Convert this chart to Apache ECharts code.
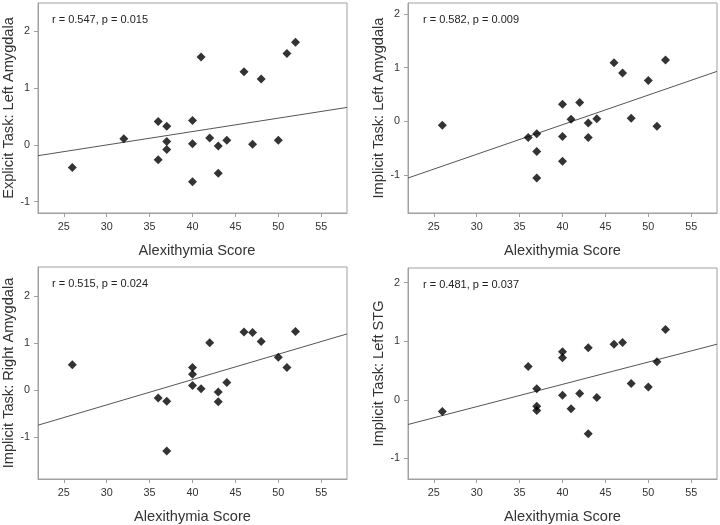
<!DOCTYPE html>
<html>
<head>
<meta charset="utf-8">
<script src="https://cdn.jsdelivr.net/npm/echarts@6/dist/echarts.min.js"></script>
<style>
html,body{margin:0;padding:0;background:#fff;}
#chart{width:720px;height:525px;}
</style>
</head>
<body>
<div id="chart"></div>
<script>
// ---- data ----
const xTicks = [25, 30, 35, 40, 45, 50, 55];
const yTicks = [-1, 0, 1, 2];
const xTitle = 'Alexithymia Score';
const yTitles = ['Explicit Task: Left Amygdala', 'Implicit Task: Left Amygdala', 'Implicit Task: Right Amygdala', 'Implicit Task: Left STG'];
const stats = ['r = 0.547, p = 0.015', 'r = 0.582, p = 0.009', 'r = 0.515, p = 0.024', 'r = 0.481, p = 0.037'];

const p1X = [26, 32, 36, 36, 37, 37, 37, 40, 40, 40, 41, 42, 43, 43, 44, 46, 47, 48, 50, 51, 52];
const p1Y = [-0.40, 0.11, 0.41, -0.26, 0.33, 0.06, -0.08, 0.43, 0.02, -0.65, 1.55, 0.12, -0.02, -0.50, 0.08, 1.29, 0.01, 1.16, 0.08, 1.61, 1.81];

const p2X = [26, 36, 37, 37, 37, 40, 40, 40, 41, 42, 43, 43, 44, 46, 47, 48, 50, 51, 52];
const p2Y = [-0.07, -0.30, -0.23, -0.56, -1.05, 0.32, -0.28, -0.74, 0.04, 0.35, -0.03, -0.30, 0.05, 1.09, 0.90, 0.06, 0.76, -0.09, 1.14];

const p3X = [26, 36, 37, 37, 40, 40, 40, 41, 42, 43, 43, 44, 46, 47, 48, 50, 51, 52];
const p3Y = [0.54, -0.17, -0.24, -1.30, 0.48, 0.34, 0.10, 0.03, 1.01, -0.04, -0.25, 0.16, 1.24, 1.23, 1.04, 0.70, 0.48, 1.25];

const p4X = [26, 36, 37, 37, 37, 40, 40, 40, 41, 42, 43, 43, 44, 46, 47, 48, 50, 51, 52];
const p4Y = [-0.20, 0.57, 0.19, -0.11, -0.18, 0.82, 0.72, 0.08, -0.15, 0.11, 0.89, -0.58, 0.04, 0.95, 0.98, 0.28, 0.22, 0.65, 1.20];

const fitX = [22, 58];
const p1Fit = [-0.19, 0.66];
const p2Fit = [-1.05, 0.93];
const p3Fit = [-0.75, 1.20];
const p4Fit = [-0.42, 0.95];

const xRange = [22, 58];
const yRanges = [[-1.2, 2.5], [-1.7, 2.2], [-1.9, 2.63], [-1.35, 2.25]];

// ---- layout / style ----
const FONT = '"Liberation Sans", Arial, sans-serif';
const grids = [
  {left: 37, top: 3, width: 310, height: 210},
  {left: 408, top: 3, width: 309, height: 210},
  {left: 37, top: 267, width: 310, height: 212},
  {left: 408, top: 268, width: 309, height: 211}
];
const xs = [p1X, p2X, p3X, p4X];
const ys = [p1Y, p2Y, p3Y, p4Y];
const fits = [p1Fit, p2Fit, p3Fit, p4Fit];

const zip = (a, b) => a.map((v, i) => [v, b[i]]);

const option = {
  backgroundColor: '#fff',
  animation: false,
  grid: grids.map(g => Object.assign({show: true, borderColor: '#a0a0a0', borderWidth: 1, backgroundColor: 'transparent'}, g)),
  xAxis: grids.map((g, i) => ({
    type: 'value', gridIndex: i, min: xRange[0], max: xRange[1],
    name: xTitle, nameLocation: 'middle', nameGap: 30,
    nameTextStyle: {fontFamily: FONT, fontSize: 14.6, color: '#333', padding: i === 0 ? [0, 0, 0, 9] : 0},
    axisLine: {show: true, onZero: false, lineStyle: {color: '#a0a0a0', width: 1}},
    axisTick: {show: true, length: 4, inside: false, customValues: xTicks, lineStyle: {color: '#a0a0a0'}},
    axisLabel: {show: true, customValues: xTicks, margin: 9, fontFamily: FONT, fontSize: 10.8, color: '#333'},
    splitLine: {show: false}
  })),
  yAxis: grids.map((g, i) => ({
    type: 'value', gridIndex: i, min: yRanges[i][0], max: yRanges[i][1],
    name: yTitles[i], nameLocation: 'middle', nameGap: 22,
    nameTextStyle: {fontFamily: FONT, fontSize: 14.6, color: '#333'},
    axisLine: {show: true, onZero: false, lineStyle: {color: '#a0a0a0', width: 1}},
    axisTick: {show: true, length: 4, inside: false, customValues: yTicks, lineStyle: {color: '#a0a0a0'}},
    axisLabel: {show: true, customValues: yTicks, margin: 8, fontFamily: FONT, fontSize: 10.8, color: '#333'},
    splitLine: {show: false}
  })),
  series: [].concat(
    grids.map((g, i) => ({
      type: 'line', xAxisIndex: i, yAxisIndex: i,
      data: zip(fitX, fits[i]), symbol: 'none', silent: true,
      lineStyle: {color: '#555', width: 1}, z: 2
    })),
    grids.map((g, i) => ({
      type: 'scatter', xAxisIndex: i, yAxisIndex: i,
      data: zip(xs[i], ys[i]), symbol: 'diamond', symbolSize: 9,
      itemStyle: {color: '#000'}, z: 3
    }))
  ),
  graphic: grids.map((g, i) => ({
    type: 'text', left: g.left + 15, top: g.top + 11,
    style: {text: stats[i], font: '11px ' + FONT, fill: '#222'}
  }))
};

const chart = echarts.init(document.getElementById('chart'), null, {renderer: 'canvas'});
chart.setOption(option);
</script>
</body>
</html>
